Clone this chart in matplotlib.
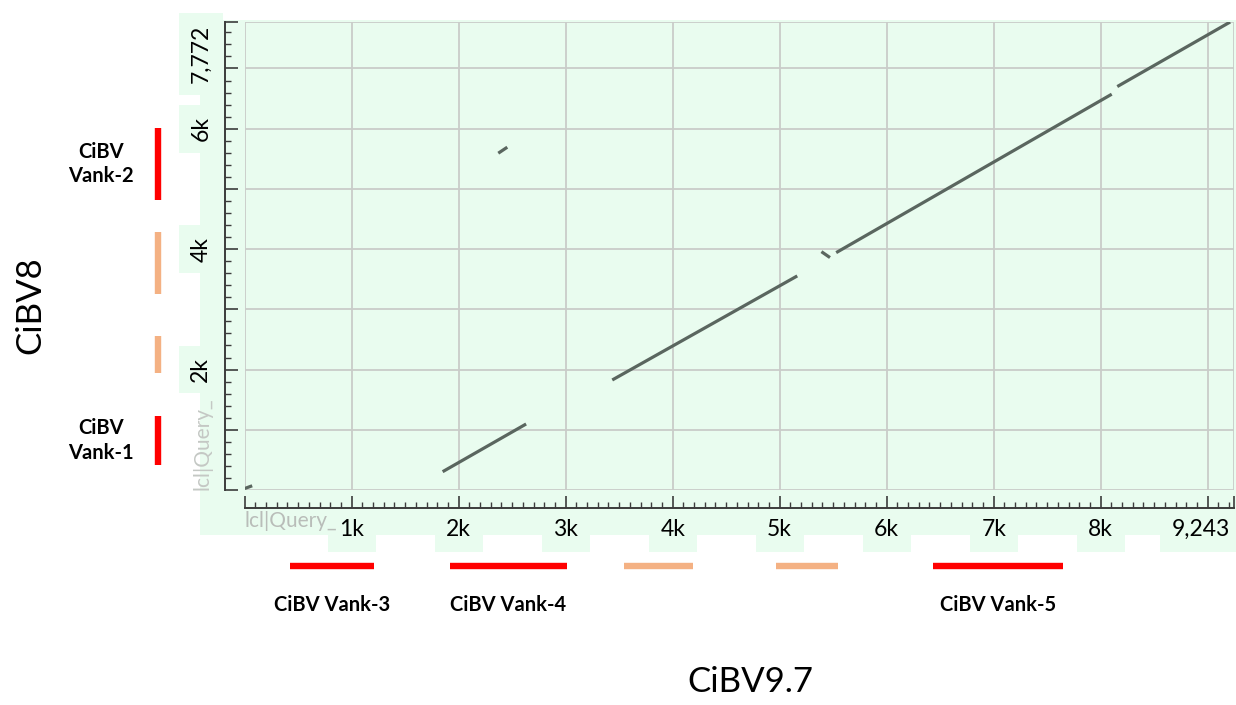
import matplotlib
matplotlib.use('Agg')
import matplotlib.pyplot as plt
from matplotlib.patches import Rectangle
from matplotlib.transforms import blended_transform_factory as blend, ScaledTranslation
from matplotlib.ticker import FixedLocator, MultipleLocator

plt.rcParams['font.family'] = ['Lato', 'DejaVu Sans']

# ---------------- data ----------------
query_name = 'CiBV9.7'
subject_name = 'CiBV8'
query_len = 9243
subject_len = 7772

# dot-plot alignment segments (query position -> subject position)
seg_x_start = [0, 1850, 2370, 3435, 5390, 5528, 8155]
seg_y_start = [25, 304, 5593, 1827, 3958, 3942, 6700]
seg_x_end = [70, 2630, 2454, 5164, 5470, 8103, 9210]
seg_y_end = [70, 1096, 5693, 3555, 3860, 6573, 7772]

# annotated regions on CiBV8 (y axis)
y_reg_start = [415, 1944, 3256, 4817]
y_reg_end = [1229, 2558, 4286, 6013]
y_reg_kind = ['red', 'orange', 'orange', 'red']
y_reg_label = ['CiBV\nVank-1', '', '', 'CiBV\nVank-2']

# annotated regions on CiBV9.7 (x axis)
x_reg_start = [425, 1919, 3545, 4967, 6433]
x_reg_end = [1211, 3012, 4190, 5546, 7648]
x_reg_kind = ['red', 'red', 'orange', 'orange', 'red']
x_reg_label = ['CiBV Vank-3', 'CiBV Vank-4', '', '', 'CiBV Vank-5']

x_ticks = [0, 1000, 2000, 3000, 4000, 5000, 6000, 7000, 8000, 9000, 9243]
x_tick_labels = ['', '1k', '2k', '3k', '4k', '5k', '6k', '7k', '8k', '', '9,243']
y_ticks = [0, 1000, 2000, 3000, 4000, 5000, 6000, 7000, 7772]
y_tick_labels = ['', '', '2k', '', '4k', '', '6k', '', '7,772']

# ---------------- style ----------------
GREEN = '#E9FCEF'
GRID = '#C9CCC9'
SEG = '#5A665F'
RULER = '#3C3C3C'
COL = {'red': '#FF0000', 'orange': '#F4B183'}

W, H = 1236, 705
fig = plt.figure(figsize=(W / 100, H / 100), dpi=100)
fig.patch.set_facecolor('white')

# green screenshot background behind rulers
fig.patches.append(Rectangle((200 / W, 1 - 535 / H), (1236 - 200) / W, (535 - 20) / H,
                             transform=fig.transFigure, facecolor=GREEN,
                             edgecolor='none', zorder=-5))

ax = fig.add_axes([244.7 / W, 215 / H, 989 / W, 468 / H])
ax.set_facecolor(GREEN)
ax.set_xlim(0, query_len)
ax.set_ylim(0, subject_len)

# segments
for xs, ys, xe, ye in zip(seg_x_start, seg_y_start, seg_x_end, seg_y_end):
    ax.plot([xs, xe], [ys, ye], color=SEG, lw=2.3, solid_capstyle='butt', zorder=4)

# rulers
for s in ['top', 'right']:
    ax.spines[s].set_visible(False)
ax.spines['bottom'].set_position(('outward', 13))
ax.spines['left'].set_position(('outward', 14))
for s in ['bottom', 'left']:
    ax.spines[s].set_color(RULER)
    ax.spines[s].set_linewidth(1.4)

ax.xaxis.set_major_locator(FixedLocator(x_ticks))
ax.set_xticklabels(x_tick_labels)
ax.yaxis.set_major_locator(FixedLocator(y_ticks))
ax.set_yticklabels(y_tick_labels)
ax.xaxis.set_minor_locator(MultipleLocator(100))
ax.yaxis.set_minor_locator(MultipleLocator(200))
ax.tick_params(which='major', direction='in', length=9, width=1.2, color=RULER,
               labelsize=16.5)
ax.tick_params(which='minor', direction='in', length=4.5, width=1.0, color=RULER)
ax.tick_params(axis='x', which='major', pad=8)
ax.tick_params(axis='y', which='major', pad=10, labelrotation=90)

ax.grid(True, which='major', color=GRID, lw=1.3, zorder=0)
ax.set_axisbelow(True)

box = dict(facecolor=GREEN, edgecolor='none', boxstyle='square,pad=0.5')
for lab in ax.get_xticklabels():
    lab.set_bbox(box)
    if lab.get_text() == '9,243':
        lab.set_ha('right')
        lab.set_transform(lab.get_transform() + ScaledTranslation(-4 / 100, 0, fig.dpi_scale_trans))
for lab in ax.get_yticklabels():
    lab.set_bbox(box)
    lab.set_va('center')
    if lab.get_text() == '7,772':
        lab.set_transform(lab.get_transform() + ScaledTranslation(0, -32 / 100, fig.dpi_scale_trans))

# faint query labels from the original screenshot
ax.text(0.0, -0.067, 'lcl|Query_', transform=ax.transAxes, ha='left', va='center',
        fontsize=15, color='#B9BDB9', zorder=1, clip_on=False)
ax.text(-0.043, 0.0, 'lcl|Query_', transform=ax.transAxes, ha='center', va='bottom',
        rotation=90, fontsize=15, color='#C4C8C4', zorder=1, clip_on=False)

# region bars on y
ty = blend(ax.transAxes, ax.transData)
for s, e, k, l in zip(y_reg_start, y_reg_end, y_reg_kind, y_reg_label):
    ax.vlines(-0.0877, s, e, transform=ty, colors=COL[k], lw=4.6, clip_on=False)
    if l:
        ax.text(-0.1453, (s + e) / 2, l, transform=ty, ha='center', va='center',
                fontsize=14.5, fontweight='bold', linespacing=1.3, clip_on=False)

# region bars on x
tx = blend(ax.transData, ax.transAxes)
for s, e, k, l in zip(x_reg_start, x_reg_end, x_reg_kind, x_reg_label):
    ax.hlines(-0.162, s, e, transform=tx, colors=COL[k], lw=4.6, clip_on=False)
    if l:
        ax.text((s + e) / 2, -0.2457, l, transform=tx, ha='center', va='center',
                fontsize=14.5, fontweight='bold', clip_on=False)

ax.set_xlim(0, query_len)
ax.set_ylim(0, subject_len)

fig.text(750 / W, 1 - 682 / H, query_name, fontsize=25, ha='center', va='center')
fig.text(30 / W, 1 - 305 / H, subject_name, fontsize=25, ha='center', va='center', rotation=90)

fig.savefig('out.png', dpi=100, facecolor='white')
